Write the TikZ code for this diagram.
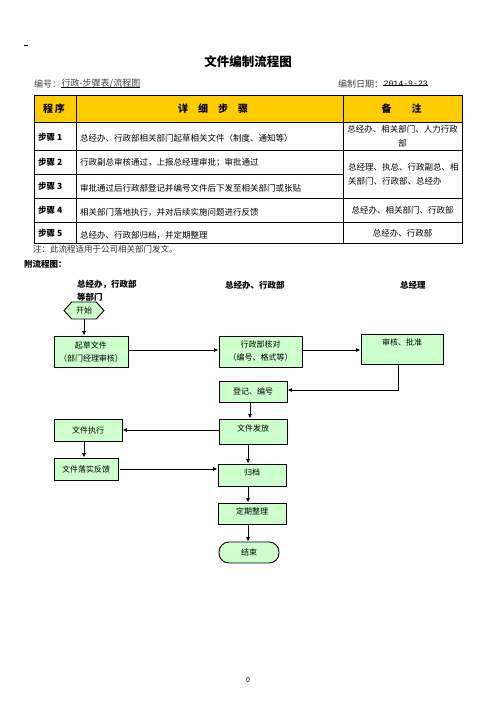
\documentclass[tikz,border=0pt]{standalone}
\usepackage{fontspec}
\setmainfont{Noto Sans CJK SC}
\newfontfamily\monof{Liberation Mono}
\usetikzlibrary{shapes.geometric,shapes.symbols,arrows.meta}
\definecolor{hdr}{HTML}{FFCC00}
\definecolor{boxg}{HTML}{CCFFCC}
\tikzset{
  txt/.style={inner sep=0pt, anchor=west},
  tcell/.style={txt, font=\fontsize{8.5}{14}\selectfont},
  tstep/.style={txt, font=\fontsize{8.5}{10}\selectfont\bfseries},
  thead/.style={inner sep=0pt, font=\fontsize{10}{12}\selectfont\bfseries},
  lanehead/.style={txt, font=\fontsize{8.5}{13}\selectfont\bfseries},
  fbox/.style={draw=black, line width=0.9pt, fill=boxg, inner sep=0pt, align=center,
    font=\fontsize{8}{13}\selectfont},
  arr/.style={line width=0.9pt, -{Latex[length=4.5pt,width=4pt]}},
  grid/.style={line width=0.8pt}
}
\begin{document}
\begin{tikzpicture}[x=1pt,y=-1pt]
\useasboundingbox (0,0) rectangle (496,702);
% top dash
\draw[line width=0.6pt] (24,45) -- (28,45);
% title
\node[inner sep=0pt, font=\fontsize{12.5}{14}\selectfont\bfseries] (title) at (248,62) {文件编制流程图};
% number line
\node[txt, font=\fontsize{9}{11}\selectfont, text=black!75] (bh) at (34,84) {编号：};
\node[txt, font=\fontsize{9}{11}\selectfont, text=black!75] (bhv) at (bh.east) {行政-步骤表/流程图};
\draw[line width=0.5pt] ([yshift=1.5pt]bhv.south west) -- ([yshift=1.5pt]bhv.south east);
\node[txt, font=\fontsize{9}{11}\selectfont, text=black!75] (dt) at (338,84) {编制日期：};
\node[txt, font=\fontsize{8.2}{10}\selectfont\monof] (dtv) at (dt.east) {2014-9-23};
\draw[line width=0.5pt] ([yshift=2pt]dtv.south west) -- ([yshift=2pt]dtv.south east);
% table
\fill[hdr] (34,95) rectangle (462,122);
\draw[grid] (34,95) rectangle (462,243);
\draw[grid] (34,122) -- (462,122);
\draw[grid] (34,150.7) -- (462,150.7);
\draw[grid] (34,174) -- (343,174);
\draw[grid] (34,198) -- (462,198);
\draw[grid] (34,222) -- (462,222);
\draw[grid] (76,95) -- (76,243);
\draw[grid] (343,95) -- (343,243);
% header
\node[thead] (h1) at (54,108.5) {程\,序};
\node[thead] (h2) at (213,108.5) {详\hspace{1em}细\hspace{1em}步\hspace{1em}骤};
\node[thead] (h3) at (401.5,108.5) {备\hspace{2em}注};
% rows
\node[tstep] (s1) at (38,137) {步骤 1};
\node[tstep] (s2) at (38,162) {步骤 2};
\node[tstep] (s3) at (38,186) {步骤 3};
\node[tstep] (s4) at (38,210) {步骤 4};
\node[tstep] (s5) at (38,233) {步骤 5};
\node[tcell] (d1) at (80,138) {总经办、行政部相关部门起草相关文件（制度、通知等）};
\node[tcell] (d2) at (80,163) {行政副总审核通过，上报总经理审批；审批通过};
\node[tcell] (d3) at (80,188) {审批通过后行政部登记并编号文件后下发至相关部门或张贴};
\node[tcell] (d4) at (80,212) {相关部门落地执行，并对后续实施问题进行反馈};
\node[tcell] (d5) at (80,235) {总经办、行政部归档，并定期整理};
\node[tcell, anchor=center, align=center] (r1) at (402.5,136) {总经办、相关部门、人力行政\\部};
\node[tcell, align=left] (r23) at (348,174) {总经理、执总、行政副总、相\\关部门、行政部、总经办};
\node[tcell, anchor=center] (r4) at (402.5,210) {总经办、相关部门、行政部};
\node[tcell, anchor=center] (r5) at (402.5,233) {总经办、行政部};
% notes
\node[txt, font=\fontsize{8.5}{10}\selectfont, text=black!80] (note) at (33,249) {注：此流程适用于公司相关部门发文。};
\node[txt, font=\fontsize{8.5}{10}\selectfont\bfseries] (att) at (24,264) {附流程图：};
% lane headers
\node[lanehead, align=left, anchor=north west] (l1) at (77,280) {总经办，行政部\\等部门};
\node[lanehead] (l2) at (225,285) {总经办、行政部};
\node[lanehead] (l3) at (400,285) {总经理};
% flowchart nodes
\node[fbox, shape=signal, signal to=west and east, signal pointer angle=95,
      minimum width=40pt, minimum height=17pt] (start) at (84,310.5) {开始};
\node[fbox, minimum width=74pt, minimum height=31pt] (b1) at (91,351.5) {起草文件\\（部门经理审核）};
\node[fbox, minimum width=83pt, minimum height=31pt] (b2) at (260.5,351.5) {行政部核对\\（编号、格式等）};
\node[fbox, minimum width=82pt, minimum height=30pt, text depth=14pt] (b3) at (402,349) {审核、批准};
\node[fbox, minimum width=68pt, minimum height=21pt] (b4) at (253,391.5) {登记、编号};
\node[fbox, minimum width=68pt, minimum height=25pt, text depth=7pt] (b5) at (253,431.5) {文件发放};
\node[fbox, minimum width=68pt, minimum height=22pt] (b6) at (88,430) {文件执行};
\node[fbox, minimum width=64pt, minimum height=22pt] (b7) at (86,469) {文件落实反馈};
\node[fbox, minimum width=68pt, minimum height=22pt, text depth=5pt] (b8) at (252,475) {归档};
\node[fbox, minimum width=68pt, minimum height=21pt, text depth=5pt] (b9) at (252,513.5) {定期整理};
\node[fbox, minimum width=60pt, minimum height=21pt, rounded corners=10pt] (end) at (249,552.5) {结束};
% connectors
\draw[arr] (start.south) -- (start.south |- b1.north);
\draw[arr] ([yshift=1.5pt]b1.east) -- ([yshift=1.5pt]b2.west);
\draw[arr] ([yshift=1.5pt]b2.east) -- ([yshift=1.5pt]b2.east -| b3.west);
\draw[arr] ([xshift=-4pt]b3.south) |- ([yshift=1.5pt]b4.east);
\draw[arr] ([xshift=-3pt]b4.south) -- ([xshift=-3pt]b4.south |- b5.north);
\draw[arr] (b5.west |- b6.east) -- (b6.east);
\draw[arr] ([xshift=-4pt]b6.south) -- ([xshift=-4pt]b6.south |- b7.north);
\draw[arr] ([xshift=2pt]b7.east) -- (b7.east -| b8.west);
\draw[arr] ([xshift=-5pt]b5.south) -- ([xshift=-5pt]b5.south |- b8.north);
\draw[arr] ([xshift=-4pt]b8.south) -- ([xshift=-4pt]b8.south |- b9.north);
\draw[arr] ([xshift=-4pt]b9.south) -- ([xshift=-4pt]b9.south |- end.north);
% page number
\node[inner sep=0pt, font=\fontsize{7}{8}\selectfont] (pg) at (248,680) {0};
\end{tikzpicture}
\end{document}
